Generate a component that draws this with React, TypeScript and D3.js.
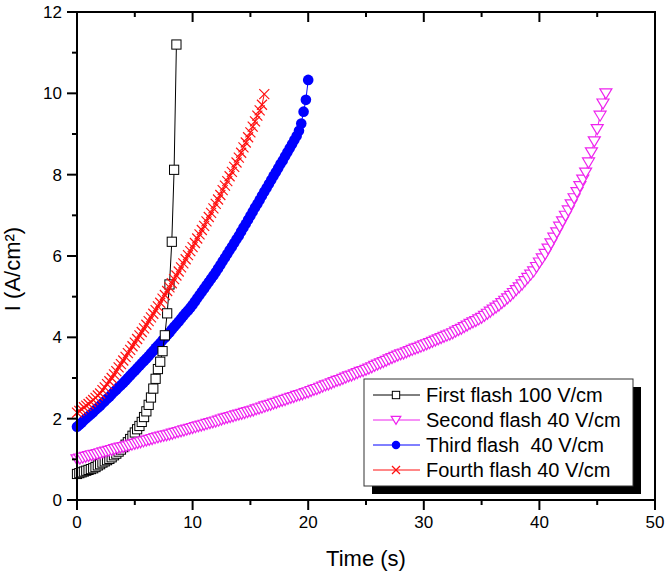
import React from "react";
import * as d3 from "d3";

// ---- data ----
const X_TICKS = [0, 10, 20, 30, 40, 50];
const Y_TICKS = [0, 2, 4, 6, 8, 10, 12];
const X_MINOR = [5, 15, 25, 35, 45];
const Y_MINOR = [1, 3, 5, 7, 9, 11];

const FIRST_DT = 0.2;
const FIRST_I = [
  0.64, 0.66, 0.68, 0.70, 0.72, 0.74, 0.76, 0.78, 0.81, 0.85,
  0.88, 0.92, 0.95, 0.98, 1.01, 1.05, 1.10, 1.14, 1.19, 1.24,
  1.30, 1.36, 1.42, 1.50, 1.58, 1.66, 1.74, 1.82, 1.92, 2.04,
  2.18, 2.34, 2.52, 2.74, 2.98, 3.22, 3.40, 3.66, 4.05, 4.59,
  5.30, 6.35, 8.12, 11.20,
];

const SECOND_DT = 0.25;
const SECOND_I = [
  1.00, 1.02, 1.04, 1.06, 1.08, 1.10, 1.11, 1.13, 1.15, 1.17, 1.19, 1.21, 1.23, 1.25, 1.27, 1.29, 1.30, 1.32, 1.34, 1.36,
  1.38, 1.40, 1.42, 1.44, 1.46, 1.48, 1.50, 1.52, 1.54, 1.56, 1.58, 1.59, 1.61, 1.63, 1.65, 1.67, 1.69, 1.71, 1.73, 1.75,
  1.77, 1.79, 1.81, 1.83, 1.85, 1.87, 1.89, 1.91, 1.93, 1.95, 1.98, 2.00, 2.02, 2.04, 2.06, 2.08, 2.10, 2.12, 2.14, 2.16,
  2.18, 2.20, 2.23, 2.25, 2.27, 2.30, 2.32, 2.34, 2.37, 2.39, 2.42, 2.44, 2.46, 2.49, 2.51, 2.53, 2.56, 2.58, 2.60, 2.63,
  2.65, 2.68, 2.71, 2.73, 2.76, 2.79, 2.82, 2.84, 2.87, 2.90, 2.93, 2.95, 2.98, 3.01, 3.04, 3.06, 3.09, 3.12, 3.15, 3.17,
  3.20, 3.23, 3.26, 3.30, 3.33, 3.36, 3.39, 3.42, 3.46, 3.49,
  3.52, 3.55, 3.58, 3.60, 3.63, 3.66, 3.69, 3.72, 3.74, 3.77,
  3.80, 3.83, 3.86, 3.89, 3.92, 3.95, 3.98, 4.01, 4.04, 4.07,
  4.10, 4.14, 4.18, 4.21, 4.25, 4.29, 4.33, 4.37, 4.40, 4.44,
  4.48, 4.53, 4.58, 4.63, 4.68, 4.73,
  4.78, 4.84, 4.90, 4.96,
  5.02, 5.09, 5.16, 5.23,
  5.30, 5.38, 5.46, 5.54,
  5.62, 5.73, 5.84, 5.94,
  6.05, 6.18, 6.31, 6.45,
  6.58, 6.72, 6.85, 6.99,
  7.12, 7.27, 7.42, 7.57,
  7.72, 7.88, 8.05, 8.30, 8.55, 8.82,
  9.12, 9.45, 9.75, 10.00,
];

const THIRD_DT = 0.2;
const THIRD_I = [
  1.80, 1.85, 1.90, 1.96, 2.01, 2.06, 2.11, 2.16, 2.22, 2.27,
  2.32, 2.38, 2.43, 2.49, 2.54, 2.60, 2.66, 2.71, 2.77, 2.82,
  2.88, 2.94, 3.00, 3.06, 3.12, 3.18, 3.24, 3.30, 3.36, 3.42,
  3.48, 3.54, 3.61, 3.67, 3.74, 3.80, 3.86, 3.93, 3.99, 4.06,
  4.12, 4.19, 4.26, 4.32, 4.39, 4.46, 4.53, 4.60, 4.66, 4.73,
  4.80, 4.88, 4.96, 5.04, 5.12, 5.20, 5.28, 5.36, 5.44, 5.52,
  5.60, 5.69, 5.78, 5.87, 5.96, 6.05, 6.14, 6.23, 6.32, 6.41,
  6.50, 6.60, 6.70, 6.79, 6.89, 6.99, 7.09, 7.19, 7.28, 7.38,
  7.48, 7.58, 7.67, 7.77, 7.87, 7.97, 8.06, 8.16, 8.26, 8.35,
  8.45, 8.55, 8.65, 8.75, 8.85,
  8.95, 9.08, 9.26, 9.55, 9.84, 10.33,
];

const FOURTH_DT = 0.2;
const FOURTH_I = [
  2.15, 2.19, 2.23, 2.28, 2.32,
  2.36, 2.41, 2.46, 2.51, 2.57,
  2.62, 2.70, 2.77, 2.85, 2.92,
  3.00, 3.09, 3.17, 3.26, 3.34,
  3.43, 3.52, 3.61, 3.69, 3.78,
  3.87, 3.96, 4.05, 4.13, 4.22,
  4.31, 4.40, 4.49, 4.58, 4.67,
  4.76, 4.85, 4.95, 5.04, 5.14,
  5.23, 5.33, 5.43, 5.52, 5.62,
  5.72, 5.82, 5.92, 6.02, 6.12,
  6.22, 6.32, 6.43, 6.53, 6.64,
  6.74, 6.85, 6.96, 7.06, 7.17,
  7.28, 7.39, 7.50, 7.62, 7.73,
  7.84, 7.96, 8.07, 8.19, 8.30,
  8.42, 8.54, 8.67, 8.79, 8.92,
  9.04, 9.18, 9.31, 9.45, 9.58,
  9.72, 9.98,
];

const LEGEND_LABELS = [
  "First flash 100 V/cm",
  "Second flash 40 V/cm",
  "Third flash  40 V/cm",
  "Fourth flash 40 V/cm",
];

const FONT = "Arial, 'Liberation Sans', Helvetica, sans-serif";
const MAGENTA = "#ee22ee";
const BLUE = "#0000ff";
const RED = "#ff1010";

type Pt = [number, number];
const toPts = (vals: number[], dt: number): Pt[] => vals.map((v, i) => [i * dt, v]);

const W = 666, H = 574;
const L = 77, R = 655, T = 12, B = 500;

function Marker({ kind, x, y, small }: { kind: string; x: number; y: number; small?: boolean }) {
  const s = small ? 0.8 : 1;
  if (kind === "square") {
    const h = 4.6 * s;
    return <rect x={x - h} y={y - h} width={2 * h} height={2 * h} fill="white" stroke="black" strokeWidth={1} />;
  }
  if (kind === "tri") {
    const w = 6 * s, t = 4.5 * s, b = 5.5 * s;
    return (
      <path d={`M${x - w},${y - t}L${x + w},${y - t}L${x},${y + b}Z`} fill="white" stroke={MAGENTA} strokeWidth={1.2} />
    );
  }
  if (kind === "circle") {
    return <circle cx={x} cy={y} r={5.3 * s} fill={BLUE} />;
  }
  const h = 5 * s;
  return (
    <g stroke={RED} strokeWidth={1.2}>
      <line x1={x - h} y1={y - h} x2={x + h} y2={y + h} />
      <line x1={x - h} y1={y + h} x2={x + h} y2={y - h} />
    </g>
  );
}

export default function App() {
  const x = d3.scaleLinear().domain([0, 50]).range([L, R]);
  const y = d3.scaleLinear().domain([0, 12]).range([B, T]);
  const line = d3.line<Pt>().x((d) => x(d[0])).y((d) => y(d[1]));

  const series = [
    { key: "first", pts: toPts(FIRST_I, FIRST_DT), color: "black", kind: "square" },
    { key: "second", pts: toPts(SECOND_I, SECOND_DT), color: MAGENTA, kind: "tri" },
    { key: "third", pts: toPts(THIRD_I, THIRD_DT), color: BLUE, kind: "circle" },
    { key: "fourth", pts: toPts(FOURTH_I, FOURTH_DT), color: RED, kind: "x" },
  ];
  const drawOrder = [2, 0, 1, 3];

  const legX = 364, legY = 379, legW = 269, legH = 107;

  return (
    <svg width={W} height={H} style={{ position: "absolute", left: 0, top: 0, background: "white" }} fontFamily={FONT}>
      <rect x={0} y={0} width={W} height={H} fill="white" />
      {drawOrder.map((i) => {
        const s = series[i];
        return (
          <g key={s.key}>
            <path d={line(s.pts) || ""} fill="none" stroke={s.color} strokeWidth={1} />
            {s.pts.map((p, j) => (
              <Marker key={j} kind={s.kind} x={x(p[0])} y={y(p[1])} />
            ))}
          </g>
        );
      })}

      {/* frame */}
      <g stroke="black" strokeWidth={2} fill="none">
        <rect x={L} y={T} width={R - L} height={B - T} />
      </g>
      {/* bottom ticks (outward) and top ticks (inward) */}
      <g stroke="black" strokeWidth={2}>
        {X_TICKS.map((v) => (
          <g key={"xt" + v}>
            <line x1={x(v)} x2={x(v)} y1={B} y2={B + 10} />
            <line x1={x(v)} x2={x(v)} y1={T} y2={T + 10} />
          </g>
        ))}
        {X_MINOR.map((v) => (
          <g key={"xm" + v}>
            <line x1={x(v)} x2={x(v)} y1={B} y2={B + 5} />
            <line x1={x(v)} x2={x(v)} y1={T} y2={T + 5} />
          </g>
        ))}
        {Y_TICKS.map((v) => (
          <line key={"yt" + v} x1={L - 10} x2={L} y1={y(v)} y2={y(v)} />
        ))}
        {Y_MINOR.map((v) => (
          <line key={"ym" + v} x1={L - 5} x2={L} y1={y(v)} y2={y(v)} />
        ))}
      </g>
      {X_TICKS.map((v) => (
        <text key={"xl" + v} x={x(v)} y={528} textAnchor="middle" fontSize={17}>
          {v}
        </text>
      ))}
      {Y_TICKS.map((v) => (
        <text key={"yl" + v} x={62} y={y(v) + 6} textAnchor="end" fontSize={17}>
          {v}
        </text>
      ))}
      <text x={(L + R) / 2} y={566} textAnchor="middle" fontSize={22}>
        Time (s)
      </text>
      <text transform={`translate(20,269) rotate(-90)`} textAnchor="middle" fontSize={22}>
        I (A/cm²)
      </text>

      {/* legend */}
      <rect x={legX + 8} y={legY + 8} width={legW} height={legH} fill="black" />
      <rect x={legX} y={legY} width={legW} height={legH} fill="white" stroke="#333" strokeWidth={1} />
      {LEGEND_LABELS.map((lab, i) => {
        const by = 402 + i * 25;
        const s = series[i];
        return (
          <g key={lab}>
            <line x1={373} x2={420} y1={by - 7} y2={by - 7} stroke={s.color} strokeWidth={1} />
            <Marker kind={s.kind} x={396} y={by - 7} small />
            <text x={426} y={by} fontSize={20} style={{ whiteSpace: "pre" }}>
              {lab}
            </text>
          </g>
        );
      })}
    </svg>
  );
}
